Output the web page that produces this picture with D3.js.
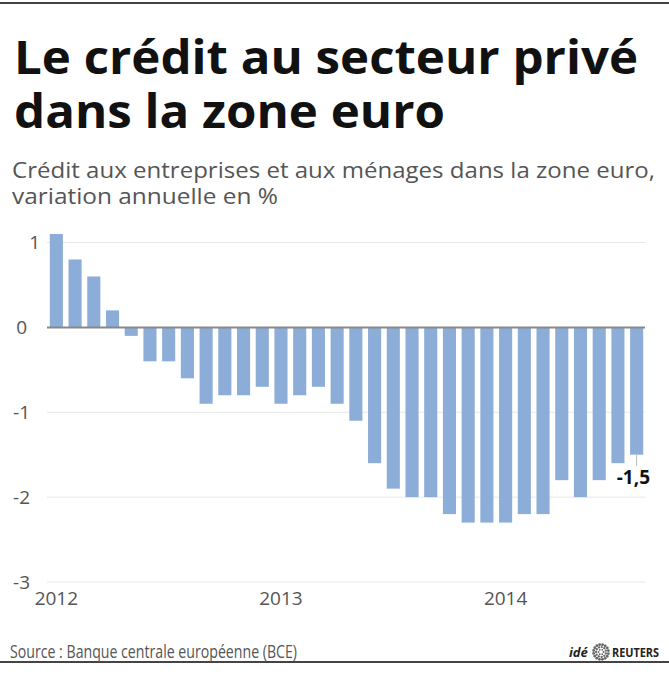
<!DOCTYPE html>
<html>
<head>
  <meta charset="utf-8">
  <title>Le crédit au secteur privé dans la zone euro</title>
  <script src="https://d3js.org/d3.v7.min.js"></script>
  <style>
    body { margin: 0; background: #fff; }
    text { font-family: "Open Sans", "Noto Sans", sans-serif; }
    .axis text { font-size: 19px; fill: #555; }
    .grid line { stroke: #e6e6e6; stroke-width: 1; }
    .bar { fill: #8dadd9; }
  </style>
</head>
<body>
<svg id="chart"></svg>
<script>
// données : variation annuelle du crédit au secteur privé (%), janv. 2012 - août 2014
var months = [
  "2012-01", "2012-02", "2012-03", "2012-04", "2012-05", "2012-06", "2012-07", "2012-08",
  "2012-09", "2012-10", "2012-11", "2012-12", "2013-01", "2013-02", "2013-03", "2013-04",
  "2013-05", "2013-06", "2013-07", "2013-08", "2013-09", "2013-10", "2013-11", "2013-12",
  "2014-01", "2014-02", "2014-03", "2014-04", "2014-05", "2014-06", "2014-07", "2014-08"
];
var values = [
  1.1, 0.8, 0.6, 0.2, -0.1, -0.4, -0.4, -0.6,
  -0.9, -0.8, -0.8, -0.7, -0.9, -0.8, -0.7, -0.9,
  -1.1, -1.6, -1.9, -2.0, -2.0, -2.2, -2.3, -2.3,
  -2.3, -2.2, -2.2, -1.8, -2.0, -1.8, -1.6, -1.5
];
var yTicks = [1, 0, -1, -2, -3];
var yearTicks = ["2012-01", "2013-01", "2014-01"];
var lastLabel = "-1,5";

var data = months.map(function (m, i) { return { month: m, value: values[i] }; });

var W = 669, H = 675;
var svg = d3.select("#chart").attr("width", W).attr("height", H);

// filets haut et bas
svg.append("line").attr("x1", 0).attr("x2", W).attr("y1", 3).attr("y2", 3)
  .attr("stroke", "#444").attr("stroke-width", 2);
svg.append("line").attr("x1", 0).attr("x2", W).attr("y1", 662).attr("y2", 662)
  .attr("stroke", "#444").attr("stroke-width", 2);

// titre
var title = svg.append("g").attr("font-weight", "bold").attr("fill", "#111").attr("font-size", 46);
title.append("text").attr("x", 14).attr("y", 74)
  .attr("textLength", 624).attr("lengthAdjust", "spacingAndGlyphs")
  .text("Le crédit au secteur privé");
title.append("text").attr("x", 14).attr("y", 128)
  .attr("textLength", 431).attr("lengthAdjust", "spacingAndGlyphs")
  .text("dans la zone euro");

var sub = svg.append("g").attr("fill", "#555").attr("font-size", 21);
sub.append("text").attr("x", 12).attr("y", 178)
  .attr("textLength", 643).attr("lengthAdjust", "spacingAndGlyphs")
  .text("Crédit aux entreprises et aux ménages dans la zone euro,");
sub.append("text").attr("x", 12).attr("y", 204)
  .attr("textLength", 266).attr("lengthAdjust", "spacingAndGlyphs")
  .text("variation annuelle en %");

// échelles
var x = d3.scaleBand()
  .domain(months)
  .range([47, 646])
  .paddingInner(0.3)
  .paddingOuter(0.15);

var y = d3.scaleLinear()
  .domain([-3, 1])
  .range([582, 242.5]);

// grille
svg.append("g").attr("class", "grid")
  .selectAll("line")
  .data(yTicks.filter(function (d) { return d !== 0; }))
  .enter().append("line")
  .attr("x1", 47).attr("x2", 645)
  .attr("y1", function (d) { return y(d); })
  .attr("y2", function (d) { return y(d); });

// axe Y
var yAxis = svg.append("g").attr("class", "axis")
  .attr("transform", "translate(47,0)")
  .call(d3.axisLeft(y).tickValues(yTicks).tickSize(0).tickPadding(17)
    .tickFormat(function (d) { return d < 0 ? "-" + Math.abs(d) : d; }));
yAxis.select(".domain").remove();
yAxis.selectAll("text").attr("dx", function (d) { return d > 0 ? 10 : (d === 0 ? -3 : 0); });

// barres
svg.selectAll(".bar")
  .data(data)
  .enter().append("rect")
  .attr("class", "bar")
  .attr("x", function (d) { return x(d.month); })
  .attr("width", x.bandwidth())
  .attr("y", function (d) { return y(Math.max(0, d.value)); })
  .attr("height", function (d) { return Math.abs(y(d.value) - y(0)); });

// ligne zéro
svg.append("line")
  .attr("x1", 47).attr("x2", 645)
  .attr("y1", y(0)).attr("y2", y(0))
  .attr("stroke", "#888").attr("stroke-width", 2);

// axe X (années)
var xAxis = svg.append("g").attr("class", "axis")
  .attr("transform", "translate(0," + y(-3) + ")")
  .call(d3.axisBottom(x).tickValues(yearTicks).tickSize(0).tickPadding(10)
    .tickFormat(function (d) { return d.slice(0, 4); }));
xAxis.select(".domain").remove();

// étiquette de la dernière valeur
var last = data[data.length - 1];
var lx = x(last.month) + x.bandwidth() / 2;
svg.append("line")
  .attr("x1", lx).attr("x2", lx)
  .attr("y1", y(last.value)).attr("y2", y(last.value) + 11)
  .attr("stroke", "#bbb").attr("stroke-width", 1);
svg.append("text")
  .attr("x", 650).attr("y", y(last.value) + 29)
  .attr("text-anchor", "end")
  .attr("font-size", 19).attr("font-weight", "bold").attr("fill", "#111")
  .text(lastLabel);

// source
svg.append("text")
  .attr("x", 10).attr("y", 658)
  .attr("font-size", 18).attr("fill", "#555")
  .attr("textLength", 287).attr("lengthAdjust", "spacingAndGlyphs")
  .text("Source : Banque centrale européenne (BCE)");

// logo
var logo = svg.append("g").attr("fill", "#222").attr("font-weight", "bold");
logo.append("text").attr("x", 569).attr("y", 657)
  .attr("font-size", 13).attr("font-style", "italic").text("idé");
var cx = 601, cy = 652;
[2.5, 5, 7.5].forEach(function (r, k) {
  var n = 6 + k * 5;
  d3.range(n).forEach(function (i) {
    var a = i / n * 2 * Math.PI + k * 0.3;
    logo.append("circle")
      .attr("cx", cx + r * Math.cos(a)).attr("cy", cy + r * Math.sin(a))
      .attr("r", 0.9 + k * 0.25).attr("fill", "#666");
  });
});
logo.append("text").attr("x", 612).attr("y", 657)
  .attr("font-size", 13).attr("textLength", 47).attr("lengthAdjust", "spacingAndGlyphs")
  .text("REUTERS");
</script>
</body>
</html>
